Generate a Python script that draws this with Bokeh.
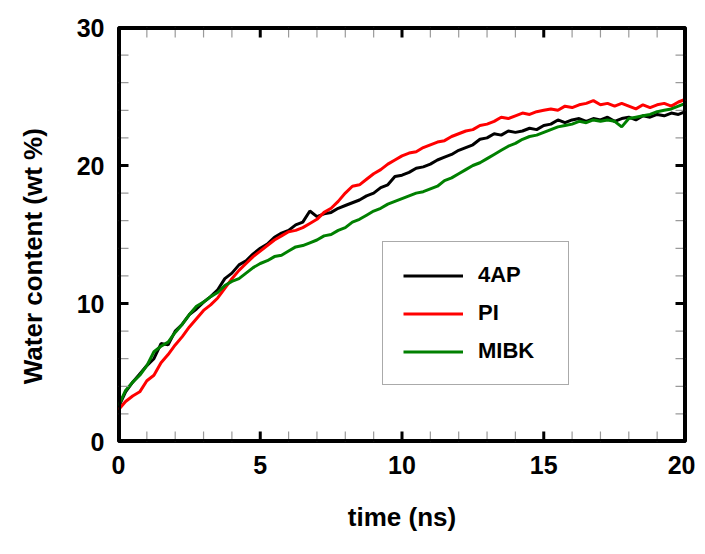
from bokeh.plotting import figure
from bokeh.models import Range1d, SingleIntervalTicker, Legend, LegendItem
from bokeh.embed import file_html
from bokeh.resources import INLINE

time_ns = [i * 0.25 for i in range(81)]

water_4ap = [2.5, 3.6, 4.3, 4.9, 5.5, 6.0, 7.1, 7.0, 8.0, 8.5, 9.2, 9.6, 10.1, 10.5, 11.0, 11.8,
             12.2, 12.8, 13.1, 13.6, 14.0, 14.3, 14.8, 15.1, 15.3, 15.7, 15.9, 16.7, 16.3, 16.5,
             16.6, 16.9, 17.1, 17.3, 17.5, 17.8, 18.0, 18.4, 18.6, 19.2, 19.3, 19.5, 19.8, 19.9,
             20.1, 20.4, 20.6, 20.8, 21.1, 21.3, 21.5, 21.9, 22.0, 22.3, 22.2, 22.5, 22.4, 22.5,
             22.7, 22.6, 22.9, 23.0, 23.3, 23.1, 23.3, 23.4, 23.2, 23.4, 23.3, 23.5, 23.2, 23.4,
             23.5, 23.3, 23.6, 23.5, 23.7, 23.6, 23.8, 23.7, 23.9]

water_pi = [2.3, 2.9, 3.3, 3.6, 4.4, 4.8, 5.7, 6.3, 7.0, 7.6, 8.3, 8.9, 9.5, 9.9, 10.4, 11.1,
            11.8, 12.4, 12.9, 13.4, 13.8, 14.2, 14.6, 14.9, 15.2, 15.3, 15.5, 15.8, 16.1, 16.6,
            16.9, 17.4, 18.0, 18.5, 18.6, 19.0, 19.4, 19.7, 20.1, 20.4, 20.7, 20.9, 21.0, 21.3,
            21.5, 21.7, 21.8, 22.1, 22.3, 22.5, 22.6, 22.9, 23.0, 23.2, 23.5, 23.4, 23.6, 23.8,
            23.7, 23.9, 24.0, 24.1, 24.0, 24.3, 24.2, 24.4, 24.5, 24.7, 24.4, 24.5, 24.3, 24.5,
            24.3, 24.1, 24.4, 24.2, 24.4, 24.5, 24.3, 24.6, 24.8]

water_mibk = [2.6, 3.7, 4.3, 4.8, 5.5, 6.5, 6.9, 7.2, 7.9, 8.5, 9.2, 9.8, 10.1, 10.5, 10.8, 11.3,
              11.6, 11.8, 12.2, 12.6, 12.9, 13.1, 13.4, 13.5, 13.8, 14.1, 14.2, 14.4, 14.6, 14.9,
              15.0, 15.3, 15.5, 15.9, 16.1, 16.4, 16.7, 16.9, 17.2, 17.4, 17.6, 17.8, 18.0, 18.1,
              18.3, 18.5, 18.9, 19.1, 19.4, 19.7, 20.0, 20.2, 20.5, 20.8, 21.1, 21.4, 21.6, 21.9,
              22.1, 22.2, 22.4, 22.6, 22.8, 22.9, 23.0, 23.2, 23.1, 23.3, 23.2, 23.3, 23.2, 22.8,
              23.4, 23.5, 23.6, 23.7, 23.9, 24.0, 24.1, 24.3, 24.5]

series_names = ["4AP", "PI", "MIBK"]
series_colors = ["black", "#ff0000", "#008000"]

x_major = [0, 5, 10, 15, 20]
x_minor = [1, 2, 3, 4, 6, 7, 8, 9, 11, 12, 13, 14, 16, 17, 18, 19]
y_major = [0, 10, 20, 30]
y_minor = [2, 4, 6, 8, 12, 14, 16, 18, 22, 24, 26, 28]
x_lo, x_hi = 0, 20
y_lo, y_hi = 0, 30

FONT = "helvetica"

FRAME_W, FRAME_H = 567, 414
BORDER_L, BORDER_R, BORDER_T, BORDER_B = 118, 10, 27, 102
TICK_PX = 10

p = figure(width=BORDER_L + FRAME_W + BORDER_R, height=BORDER_T + FRAME_H + BORDER_B,
           output_backend="svg", toolbar_location=None,
           x_range=Range1d(x_lo, x_hi), y_range=Range1d(y_lo, y_hi),
           min_border_left=BORDER_L, min_border_right=BORDER_R,
           min_border_top=BORDER_T, min_border_bottom=BORDER_B,
           x_axis_label="time (ns)",
           y_axis_label="Water content (wt %)" + "\u00a0" * 6)
p.grid.visible = False
p.outline_line_color = "black"
p.outline_line_width = 3

renderers = []
for vals, col in zip([water_4ap, water_pi, water_mibk], series_colors):
    r = p.line(time_ns, vals, line_color=col, line_width=3)
    renderers.append(r)

# inward ticks on all four sides, one small line per tick;
# tick length converted from pixels to data units
tx = TICK_PX * (x_hi - x_lo) / FRAME_W
ty = TICK_PX * (y_hi - y_lo) / FRAME_H
for xs, lw, col in [(x_minor, 1.2, "#9a9a9a"), (x_major, 3, "black")]:
    for xv in xs:
        p.line([xv, xv], [y_lo, y_lo + ty], line_color=col, line_width=lw)
        p.line([xv, xv], [y_hi, y_hi - ty], line_color=col, line_width=lw)
for ys, lw, col in [(y_minor, 1.2, "#9a9a9a"), (y_major, 3, "black")]:
    for yv in ys:
        p.line([x_lo, x_lo + tx], [yv, yv], line_color=col, line_width=lw)
        p.line([x_hi, x_hi - tx], [yv, yv], line_color=col, line_width=lw)

# frame edge drawn as a clipped line as well (inner half stays visible)
p.line([x_lo, x_hi, x_hi, x_lo, x_lo], [y_lo, y_lo, y_hi, y_hi, y_lo],
       line_color="black", line_width=5)

p.xaxis.ticker = SingleIntervalTicker(interval=5, num_minor_ticks=5)
p.yaxis.ticker = SingleIntervalTicker(interval=10, num_minor_ticks=5)
for ax in (p.xaxis[0], p.yaxis[0]):
    ax.axis_line_color = None
    ax.major_tick_line_color = None
    ax.minor_tick_line_color = None
    ax.major_tick_in = 0
    ax.major_tick_out = 0
    ax.minor_tick_in = 0
    ax.minor_tick_out = 0
    ax.major_label_text_font = FONT
    ax.major_label_text_font_style = "bold"
    ax.major_label_text_font_size = "25px"
    ax.major_label_text_color = "black"
    ax.axis_label_text_font = FONT
    ax.axis_label_text_font_style = "bold"
    ax.axis_label_text_font_size = "26px"
    ax.axis_label_text_color = "black"
p.xaxis[0].major_label_standoff = 14
p.xaxis[0].axis_label_standoff = 25
p.yaxis[0].major_label_standoff = 14
p.yaxis[0].axis_label_standoff = 26

legend = Legend(items=[LegendItem(label=n, renderers=[r]) for n, r in zip(series_names, renderers)],
                location=(264, 56))
legend.label_text_font = FONT
legend.label_text_font_style = "bold"
legend.label_text_font_size = "22px"
legend.label_text_color = "black"
legend.glyph_width = 60
legend.glyph_height = 25
legend.label_height = 25
legend.label_width = 70
legend.label_standoff = 15
legend.spacing = 12
legend.padding = 20
legend.margin = 0
legend.border_line_color = "#555555"
legend.border_line_width = 1.5
p.add_layout(legend, "center")

open("out.html", "w").write(file_html(p, INLINE))
